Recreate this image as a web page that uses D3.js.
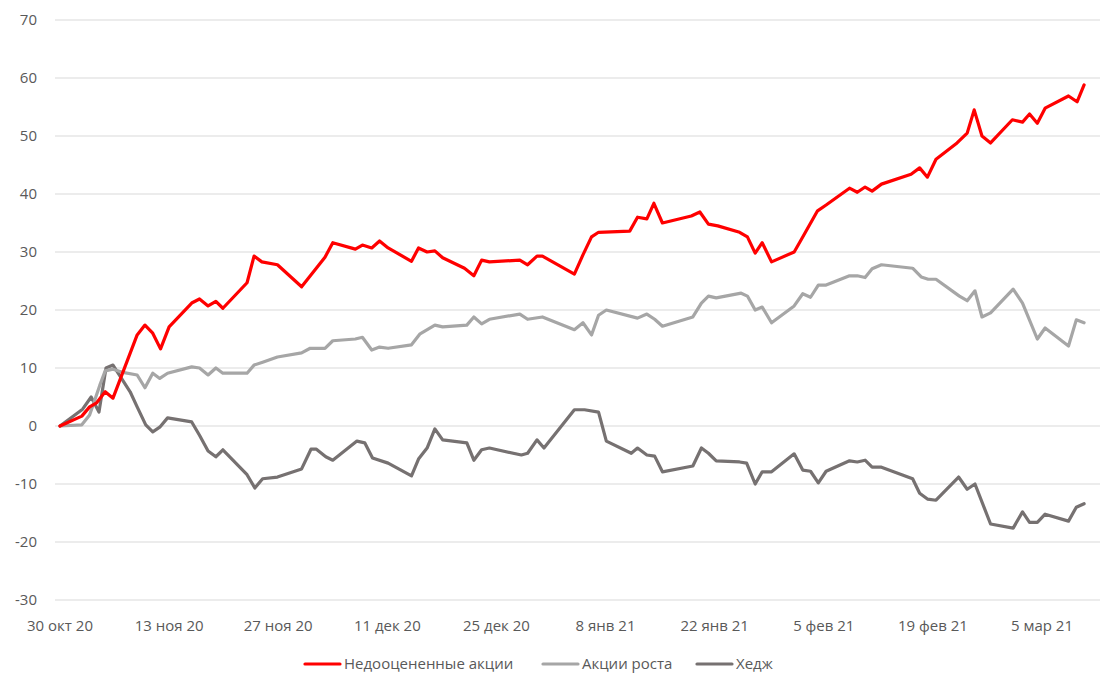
<!DOCTYPE html>
<html>
<head>
<meta charset="utf-8">
<script src="https://cdn.jsdelivr.net/npm/d3@7"></script>
<style>
  body { margin: 0; background: #fff; }
  text { font-family: "Open Sans", "Noto Sans", sans-serif; fill: #595959; }
</style>
</head>
<body>
<svg id="chart" width="1109" height="693"></svg>
<script>
// дни от 30 окт 2020
const valueDays = [0,2.8,3.8,4.7,5.8,6.8,9.9,10.9,11.9,12.9,14.0,16.9,17.9,19.0,20.0,20.9,24.0,24.9,25.9,27.9,31.0,34.0,35.0,37.9,38.8,40.0,41.0,42.1,45.1,46.0,47.1,48.1,49.1,51.9,53.1,54.1,55.1,59.0,60.0,61.2,61.9,66.0,67.1,68.2,69.1,73.1,74.1,75.3,76.2,77.3,81.0,82.1,83.2,84.4,87.2,88.2,89.2,90.1,91.3,94.2,95.1,97.2,98.3,101.3,102.3,103.3,104.2,105.4,109.2,110.3,111.3,112.4,115.1,116.4,117.3,118.3,119.4,122.2,123.5,124.4,125.4,126.4,129.4,130.5,131.4];
const valueSeries = [0,1.7,3.3,4,5.9,4.8,15.7,17.4,16,13.3,17.1,21.2,21.9,20.7,21.5,20.3,24.7,29.3,28.3,27.8,24,29.1,31.6,30.5,31.2,30.7,31.9,30.7,28.4,30.7,30,30.2,29,27.2,25.9,28.6,28.3,28.6,27.8,29.3,29.3,26.2,29.5,32.6,33.4,33.6,36,35.7,38.4,35,36.2,36.9,34.8,34.5,33.4,32.6,29.8,31.6,28.3,30,32.1,37.1,38.1,41,40.3,41.2,40.5,41.7,43.4,44.5,42.9,46,48.8,50.5,54.5,50,48.8,52.8,52.4,53.8,52.2,54.8,56.9,55.9,58.8];

const growthDays = [0,2.8,3.8,5.1,5.8,6.8,7.9,9.9,10.9,11.9,12.8,13.8,16.9,17.9,19.0,20.0,20.9,24.0,24.9,26.0,27.9,31.0,32.1,34.0,35.0,37.9,38.8,40.0,41.0,42.1,45.1,46.2,48.1,49.1,52.2,53.1,54.1,55.1,59.0,60.0,61.9,66.0,67.1,68.2,69.1,70.1,74.1,75.3,76.3,77.3,81.2,82.3,83.2,84.2,87.4,88.2,89.2,90.1,91.3,94.2,95.3,96.3,97.3,98.3,101.3,102.3,103.3,104.2,105.4,109.4,110.5,111.4,112.4,115.4,116.4,117.4,118.3,119.4,122.3,123.5,125.4,126.4,129.4,130.4,131.4];
const growthSeries = [0,0.2,1.9,7,9.5,9.8,9.3,8.8,6.6,9.1,8.2,9.1,10.2,10,8.8,10,9.1,9.1,10.5,11,11.9,12.6,13.4,13.4,14.7,15,15.3,13.1,13.6,13.4,14,15.9,17.4,17.1,17.4,18.8,17.6,18.4,19.3,18.4,18.8,16.6,17.8,15.7,19.1,20,18.6,19.3,18.4,17.2,18.8,21.2,22.4,22.1,22.9,22.4,20,20.5,17.8,20.7,22.8,22.2,24.3,24.3,25.9,25.9,25.6,27.1,27.8,27.2,25.7,25.3,25.3,22.4,21.6,23.3,18.8,19.5,23.6,21.2,15,16.9,13.8,18.3,17.8];

const hedgeDays = [0,2.9,4.0,5.0,5.9,6.8,9.0,9.9,11.0,11.9,12.8,13.8,16.9,17.9,19.0,20.0,20.9,24.0,25.0,26.0,27.9,31.0,32.2,32.9,34.1,35.0,38.1,39.1,40.1,42.1,45.1,46.0,47.1,48.1,49.1,52.2,53.1,54.1,55.1,59.2,60.0,61.2,62.1,66.0,67.3,69.1,70.1,73.3,74.1,75.3,76.3,77.3,81.2,82.3,83.2,84.2,87.2,88.1,89.2,90.1,91.3,94.2,95.3,96.3,97.3,98.3,101.3,102.3,103.3,104.2,105.4,109.4,110.3,111.3,112.4,115.3,116.4,117.4,119.4,122.3,123.5,124.4,125.4,126.4,129.4,130.4,131.4];
const hedgeSeries = [0,2.9,5,2.4,10,10.5,5.9,3.3,0.2,-1,-0.2,1.4,0.7,-1.6,-4.3,-5.3,-4.1,-8.4,-10.7,-9.1,-8.8,-7.4,-4,-4,-5.3,-5.9,-2.6,-2.9,-5.5,-6.4,-8.6,-5.7,-3.8,-0.5,-2.4,-2.9,-5.9,-4.1,-3.8,-5,-4.7,-2.4,-3.8,2.8,2.8,2.4,-2.6,-4.7,-3.8,-5,-5.2,-7.9,-6.9,-3.8,-4.7,-6,-6.2,-6.4,-10,-7.9,-7.9,-4.8,-7.6,-7.8,-9.8,-7.8,-6,-6.2,-5.9,-7.1,-7.1,-9.1,-11.6,-12.6,-12.8,-8.8,-10.9,-10,-16.9,-17.6,-14.8,-16.6,-16.6,-15.2,-16.4,-14,-13.4];

const tickDays = [0,14,28,42,56,70,84,98,112,126];
const tickLabels = ['30 окт 20','13 ноя 20','27 ноя 20','11 дек 20','25 дек 20','8 янв 21','22 янв 21','5 фев 21','19 фев 21','5 мар 21'];
const seriesNames = ['Недооцененные акции', 'Акции роста', 'Хедж'];
const seriesColors = ['#ff0000', '#a6a6a6', '#767171'];

const svg = d3.select('#chart');
const x = d3.scaleLinear().domain([0, 126]).range([60, 1042]);
const y = d3.scaleLinear().domain([-30, 70]).range([600, 20]);

// сетка
svg.append('g').selectAll('line').data(d3.range(-30, 71, 10)).join('line')
    .attr('x1', 55).attr('x2', 1100)
    .attr('y1', d => y(d)).attr('y2', d => y(d))
    .attr('stroke', '#d9d9d9').attr('stroke-width', 1);

svg.append('g').selectAll('text').data(d3.range(-30, 71, 10)).join('text')
    .attr('x', 37).attr('y', d => y(d)).attr('dy', '0.35em')
    .attr('text-anchor', 'end').style('font-size', '15px').text(d => d);

svg.append('g').selectAll('text').data(tickDays).join('text')
    .attr('x', d => x(d)).attr('y', 626).attr('dy', '0.35em')
    .attr('text-anchor', 'middle').style('font-size', '15px')
    .text((d, i) => tickLabels[i]);

const series = [
    { days: valueDays, vals: valueSeries },
    { days: growthDays, vals: growthSeries },
    { days: hedgeDays, vals: hedgeSeries }
];
const line = d3.line().x(d => x(d[0])).y(d => y(d[1]));

// рисуем снизу вверх: хедж, рост, недооцененные
[2, 1, 0].forEach(i => {
    const s = series[i];
    svg.append('path')
        .datum(d3.zip(s.days, s.vals))
        .attr('fill', 'none').attr('stroke', seriesColors[i])
        .attr('stroke-width', 3.2).attr('stroke-linejoin', 'round').attr('stroke-linecap', 'round')
        .attr('d', line);
});

// легенда
const legendX = [305, 543, 697];
const legend = svg.append('g').selectAll('g').data(seriesNames).join('g')
    .attr('transform', (d, i) => `translate(${legendX[i]},664)`);
legend.append('line').attr('x1', 0).attr('x2', 35).attr('y1', 0).attr('y2', 0)
    .attr('stroke', (d, i) => seriesColors[i]).attr('stroke-width', 3.2).attr('stroke-linecap', 'round');
legend.append('text').attr('x', 39).attr('dy', '0.35em').style('font-size', '15px').text(d => d);
</script>
</body>
</html>
